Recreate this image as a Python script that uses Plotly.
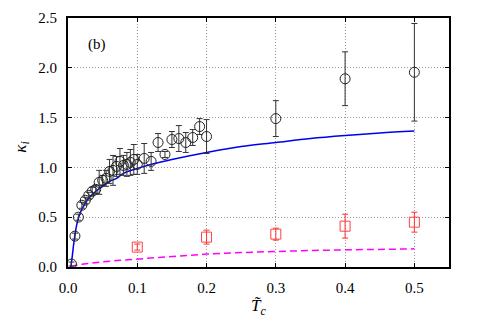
import plotly.graph_objects as go

# measured kappa_i (circles)
tc_circ = [0.005, 0.01, 0.015, 0.02, 0.025, 0.03, 0.035, 0.04, 0.045, 0.05,
           0.055, 0.06, 0.065, 0.07, 0.075, 0.08, 0.085, 0.09, 0.095, 0.1,
           0.11, 0.12, 0.13, 0.14, 0.15, 0.16, 0.17, 0.18, 0.19, 0.2,
           0.3, 0.4, 0.5]
kap_circ = [0.03, 0.31, 0.50, 0.62, 0.67, 0.72, 0.76, 0.78, 0.85, 0.87,
            0.89, 0.96, 0.97, 1.01, 1.06, 1.02, 1.03, 1.05, 1.08, 1.03,
            1.09, 1.06, 1.25, 1.13, 1.28, 1.29, 1.25, 1.30, 1.41, 1.31,
            1.49, 1.89, 1.955]
err_circ = [0.02, 0.03, 0.03, 0.03, 0.03, 0.03, 0.04, 0.04, 0.12, 0.05,
            0.08, 0.12, 0.15, 0.10, 0.13, 0.10, 0.12, 0.13, 0.15, 0.10,
            0.15, 0.09, 0.09, 0.03, 0.08, 0.13, 0.10, 0.08, 0.08, 0.17,
            0.18, 0.27, 0.49]

# measured (squares)
tc_sq = [0.1, 0.2, 0.3, 0.4, 0.5]
kap_sq = [0.20, 0.30, 0.33, 0.41, 0.45]
err_sq = [0.03, 0.07, 0.06, 0.12, 0.10]

# theory curves
tc_blue = [0.004, 0.006, 0.008, 0.01, 0.0125, 0.015, 0.02, 0.025, 0.03, 0.04,
           0.05, 0.06, 0.07, 0.08, 0.1, 0.125, 0.15, 0.2, 0.25, 0.3,
           0.35, 0.4, 0.45, 0.5]
kap_blue = [0.0, 0.10, 0.22, 0.32, 0.42, 0.49, 0.58, 0.64, 0.69, 0.76,
            0.81, 0.86, 0.89, 0.94, 0.99, 1.04, 1.08, 1.15, 1.21, 1.25,
            1.29, 1.32, 1.345, 1.365]

tc_mag = [0.004, 0.01, 0.02, 0.03, 0.05, 0.075, 0.1, 0.15, 0.2, 0.25,
          0.3, 0.35, 0.4, 0.45, 0.5]
kap_mag = [0.0, 0.015, 0.028, 0.037, 0.052, 0.067, 0.08, 0.107, 0.13, 0.145,
           0.158, 0.166, 0.172, 0.177, 0.182]

FONT = "Times New Roman, Liberation Serif, DejaVu Serif, serif"

fig = go.Figure()

fig.add_trace(go.Scatter(x=tc_mag, y=kap_mag, mode="lines",
                         line=dict(color="#ff00ff", width=1.5, dash="7px,4px")))
fig.add_trace(go.Scatter(x=tc_blue, y=kap_blue, mode="lines",
                         line=dict(color="#0000ee", width=1.5, shape="spline")))
fig.add_trace(go.Scatter(x=tc_circ, y=kap_circ, mode="markers",
                         marker=dict(symbol="circle-open", size=10, color="#222",
                                     line=dict(width=1)),
                         error_y=dict(type="data", array=err_circ, color="#333",
                                      thickness=1, width=3)))
fig.add_trace(go.Scatter(x=tc_sq, y=kap_sq, mode="markers",
                         marker=dict(symbol="square-open", size=10, color="#ff4040",
                                     line=dict(width=1)),
                         error_y=dict(type="data", array=err_sq, color="#ff3030",
                                      thickness=1, width=3)))

fig.add_annotation(text="(b)", x=0.042, y=2.23, xref="x", yref="y",
                   showarrow=False, font=dict(family=FONT, size=15))

# axis titles as annotations so the plot area stays put
fig.add_annotation(text="<i>T\u0303<sub>c</sub></i>", xref="paper", yref="paper",
                   x=0.5, y=-0.16, xanchor="center", yanchor="middle",
                   showarrow=False, font=dict(family=FONT, size=17))
fig.add_annotation(text="<i>\u03ba<sub>i</sub></i>", xref="paper", yref="paper",
                   x=-0.12, y=0.48, xanchor="center", yanchor="middle",
                   textangle=-90, showarrow=False, font=dict(family=FONT, size=17))

axis_common = dict(showline=True, linecolor="black", linewidth=2, mirror="ticks",
                   ticks="inside", ticklen=4, tickcolor="black",
                   showgrid=True, gridcolor="#999", griddash="1px,2px", gridwidth=1,
                   zeroline=False, ticklabelstandoff=6, automargin=False,
                   tickfont=dict(family=FONT, size=15, color="black"))

fig.update_xaxes(range=[0, 0.55], tickvals=[0.0, 0.1, 0.2, 0.3, 0.4, 0.5],
                 ticktext=["0.0", "0.1", "0.2", "0.3", "0.4", "0.5"],
                 **axis_common)
fig.update_yaxes(range=[0, 2.5], tickvals=[0.0, 0.5, 1.0, 1.5, 2.0, 2.5],
                 ticktext=["0.0", "0.5", "1.0", "1.5", "2.0", "2.5"],
                 **axis_common)

# page body adds an 8px offset, so the figure is shrunk by that much
fig.update_layout(
    width=470, height=326,
    margin=dict(l=60, r=29, t=10, b=67),
    paper_bgcolor="white", plot_bgcolor="white",
    showlegend=False,
    font=dict(family=FONT, size=15, color="black"),
)

fig.write_html("out.html")
